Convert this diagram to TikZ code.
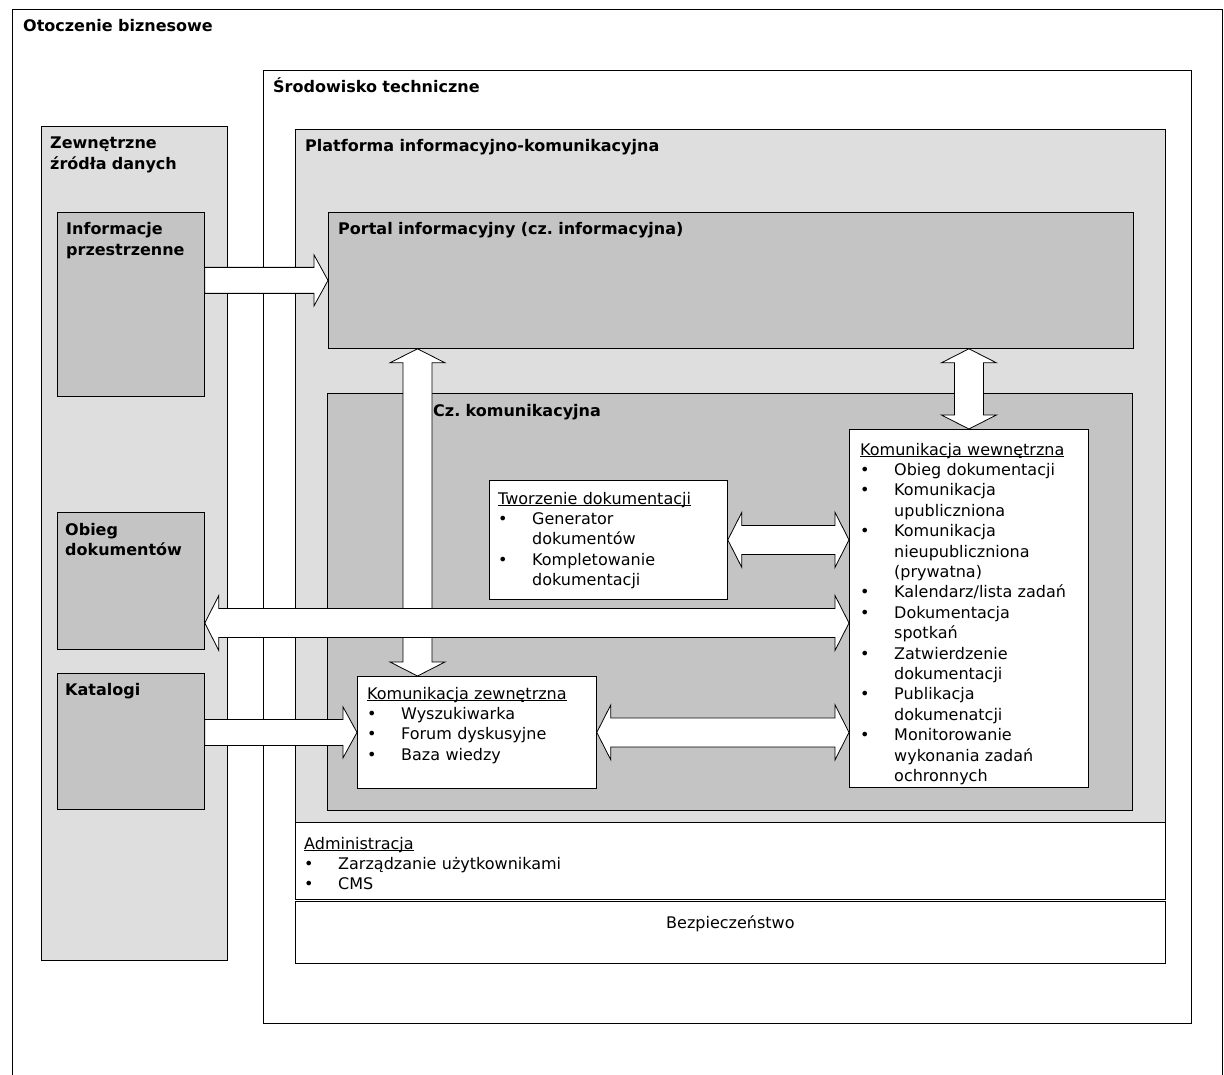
\documentclass[tikz,border=0pt]{standalone}
\usepackage{fontspec}
\setmainfont{DejaVu Sans}
\usetikzlibrary{calc}
\frenchspacing

\definecolor{lightfill}{gray}{0.87}
\definecolor{midfill}{gray}{0.77}

\newcommand{\bodyfont}{\fontsize{16}{20.4}\selectfont}
\newcommand{\itm}[1]{\makebox[34pt][l]{\textbullet}#1}
\newcommand{\cnt}[1]{\hspace*{34pt}#1}
\newcommand{\hdr}[1]{\underline{\smash{#1}}}

\begin{document}
\begin{tikzpicture}[x=1pt, y=-1pt, font=\bodyfont,
  box/.style={draw, line width=0.8pt, anchor=north west, inner sep=0pt},
  ttl/.style={font=\bodyfont\bfseries, anchor=base west, inner sep=0pt, text width=500pt, align=left},
  lst/.style={anchor=base west, inner sep=0pt, text width=400pt, align=left},
  blk/.style={draw, fill=white, line width=0.8pt, line join=miter},
  dblarrow/.style={to path={let \p1=(\tikztostart), \p2=(\tikztotarget), \n1={atan2(\y2-\y1,\x2-\x1)} in
    (\p1) -- ($(\p1)+(\n1:14pt)+({\n1+90}:27.5pt)$) -- ($(\p1)+(\n1:14pt)+({\n1+90}:14.5pt)$)
    -- ($(\p2)+({\n1+180}:14pt)+({\n1+90}:14.5pt)$) -- ($(\p2)+({\n1+180}:14pt)+({\n1+90}:27.5pt)$)
    -- (\p2) -- ($(\p2)+({\n1+180}:14pt)+({\n1-90}:27.5pt)$) -- ($(\p2)+({\n1+180}:14pt)+({\n1-90}:14.5pt)$)
    -- ($(\p1)+(\n1:14pt)+({\n1-90}:14.5pt)$) -- ($(\p1)+(\n1:14pt)+({\n1-90}:27.5pt)$) -- cycle}},
  sglarrow/.style={to path={let \p1=(\tikztostart), \p2=(\tikztotarget), \n1={atan2(\y2-\y1,\x2-\x1)} in
    ($(\p1)+({\n1+90}:13pt)$) -- ($(\p2)+({\n1+180}:14pt)+({\n1+90}:13pt)$) -- ($(\p2)+({\n1+180}:14pt)+({\n1+90}:25.5pt)$)
    -- (\p2) -- ($(\p2)+({\n1+180}:14pt)+({\n1-90}:25.5pt)$) -- ($(\p2)+({\n1+180}:14pt)+({\n1-90}:13pt)$)
    -- ($(\p1)+({\n1-90}:13pt)$) -- cycle}}]

\useasboundingbox[fill=white] (0,0) rectangle (1224,1075);

% boxes
\node [box, minimum width=1210pt, minimum height=1076pt] (biz) at (12,9) {};
\node [box, minimum width=928pt, minimum height=953pt] (srod) at (263,70) {};
\node [box, fill=lightfill, minimum width=186pt, minimum height=834pt] (zew) at (41,126) {};
\node [box, fill=midfill, minimum width=147pt, minimum height=184pt] (info) at (57,212) {};
\node [box, fill=midfill, minimum width=147pt, minimum height=137pt] (obg) at (57,512) {};
\node [box, fill=midfill, minimum width=147pt, minimum height=136pt] (kat) at (57,673) {};
\node [box, fill=lightfill, minimum width=870pt, minimum height=693pt] (plat) at (295,129) {};
\node [box, fill=midfill, minimum width=805pt, minimum height=136pt] (port) at (328,212) {};
\node [box, fill=midfill, minimum width=805pt, minimum height=417pt] (czk) at (327,393) {};
\node [box, fill=white, minimum width=238pt, minimum height=119pt] (twd) at (489,480) {};
\node [box, fill=white, minimum width=239pt, minimum height=112pt] (kzw) at (357,676) {};
\node [box, fill=white, minimum width=239pt, minimum height=358pt] (kwn) at (849,429) {};
\node [box, fill=white, minimum width=870pt, minimum height=77pt] (adm) at (295,822) {};
\node [box, fill=white, minimum width=870pt, minimum height=62pt] (bez) at (295,901) {};

% titles
\node [ttl] (tbiz) at ($(biz.north west)+(11,23)$) {Otoczenie biznesowe};
\node [ttl] (tsrod) at ($(srod.north west)+(10,23)$) {Środowisko techniczne};
\node [ttl] (tzew) at ($(zew.north west)+(9,23)$) {Zewnętrzne\\źródła danych};
\node [ttl] (tinfo) at ($(info.north west)+(9,23)$) {Informacje\\przestrzenne};
\node [ttl] (tobg) at ($(obg.north west)+(8,23)$) {Obieg\\dokumentów};
\node [ttl] (tkat) at ($(kat.north west)+(8,22)$) {Katalogi};
\node [ttl] (tplat) at ($(plat.north west)+(10,23)$) {Platforma informacyjno-komunikacyjna};
\node [ttl] (tport) at ($(port.north west)+(10,23)$) {Portal informacyjny (cz. informacyjna)};
\node [ttl] (tczk) at ($(czk.north west)+(106,24)$) {Cz. komunikacyjna};

% lists
\node [lst] (ltwd) at ($(twd.north west)+(9,24)$) {\hdr{Tworzenie dokumentacji}\\
  \itm{Generator}\\ \cnt{dokumentów}\\ \itm{Kompletowanie}\\ \cnt{dokumentacji}};
\node [lst] (lkzw) at ($(kzw.north west)+(10,23)$) {\hdr{Komunikacja zewnętrzna}\\
  \itm{Wyszukiwarka}\\ \itm{Forum dyskusyjne}\\ \itm{Baza wiedzy}};
\node [lst] (lkwn) at ($(kwn.north west)+(11,26)$) {\hdr{Komunikacja wewnętrzna}\\
  \itm{Obieg dokumentacji}\\ \itm{Komunikacja}\\ \cnt{upubliczniona}\\
  \itm{Komunikacja}\\ \cnt{nieupubliczniona}\\ \cnt{(prywatna)}\\
  \itm{Kalendarz/lista zadań}\\ \itm{Dokumentacja}\\ \cnt{spotkań}\\
  \itm{Zatwierdzenie}\\ \cnt{dokumentacji}\\ \itm{Publikacja}\\ \cnt{dokumenatcji}\\
  \itm{Monitorowanie}\\ \cnt{wykonania zadań}\\ \cnt{ochronnych}};
\node [lst] (ladm) at ($(adm.north west)+(9,27)$) {\hdr{Administracja}\\
  \itm{Zarządzanie użytkownikami}\\ \itm{CMS}};
\node [anchor=base, inner sep=0pt] (lbez) at ($(bez.north)+(0,27)$) {Bezpieczeństwo};

% arrows
\coordinate (vl) at (417.5,0);
\coordinate (obl) at (0,623);
\draw [blk] (port.south -| vl) to[dblarrow] (kzw.north -| vl);
\draw [blk] (obg.east |- obl) to[dblarrow] (kwn.west |- obl);
\draw [blk] (info.east |- port.west) to[sglarrow] (port.west);
\draw [blk] (kat.east |- kzw.west) to[sglarrow] (kzw.west);
\draw [blk] (twd.east) to[dblarrow] (kwn.west |- twd.east);
\draw [blk] (kzw.east) to[dblarrow] (kwn.west |- kzw.east);
\draw [blk] (port.south -| kwn.north) to[dblarrow] (kwn.north);
\end{tikzpicture}
\end{document}
